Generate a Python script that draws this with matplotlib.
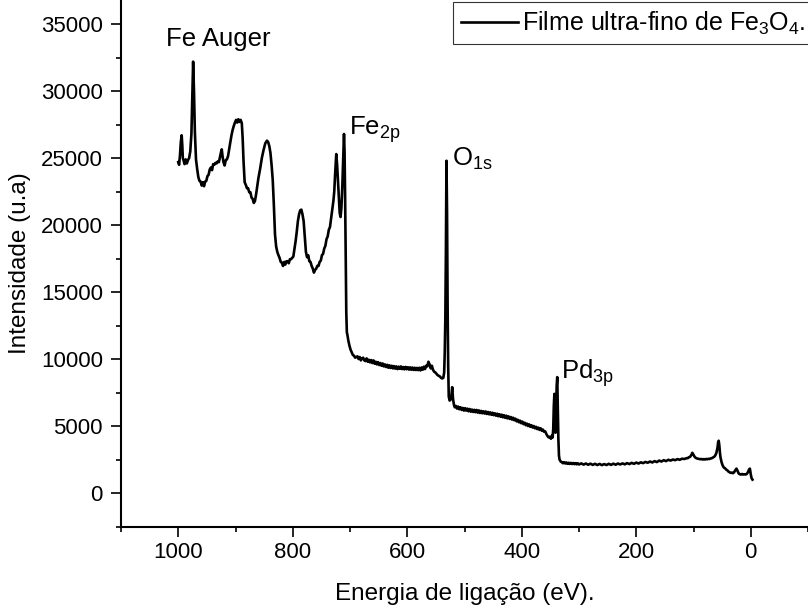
import matplotlib
matplotlib.use("Agg")
import matplotlib.pyplot as plt
from matplotlib.ticker import MultipleLocator

plt.rcParams['font.family'] = ['Liberation Sans', 'DejaVu Sans']
plt.rcParams['mathtext.fontset'] = 'custom'
plt.rcParams['mathtext.rm'] = 'Liberation Sans'
plt.rcParams['mathtext.it'] = 'Liberation Sans'
plt.rcParams['mathtext.default'] = 'regular'

# ---- data (binding energy in eV, intensity in a.u.) ----
energy_auger = [1000, 998.5, 997, 995.5, 994, 993, 992, 990.5, 989, 987, 985, 983, 981, 979, 977, 975.5, 974,
                972.5, 971, 969, 967, 965, 963, 961, 959, 957, 955, 953, 951, 949, 947, 945, 943, 941, 939,
                937, 935, 933, 931, 929, 927, 925, 924, 922.5, 921, 919, 917, 915, 913, 911, 909, 907, 905,
                903, 901, 899, 897, 895, 893, 891, 889, 887.5, 886, 884, 882, 880, 878, 876, 874, 872, 870,
                868, 866, 864, 862, 860, 857, 854, 851, 848, 845, 843, 841, 839, 837, 835, 833, 831, 829,
                827, 825, 823, 821, 819, 817, 815, 813, 811, 809, 807, 805, 803, 801, 799, 797, 795, 793,
                791, 789, 787, 785, 783, 781, 779, 777, 775, 773, 771, 769, 767, 765, 763, 761, 759, 757,
                755, 753, 751, 749, 747, 745, 743, 741, 739, 737, 735, 733, 731, 729, 727.5, 726, 724,
                722.5, 721, 719.5, 718, 716.5, 715, 713.5, 712, 710.5, 709.5, 708.5, 707.5, 706.5, 705.5,
                704.5, 703, 701]
intens_auger = [24700, 24500, 25200, 26200, 26700, 26000, 25000, 24800, 24550, 24900, 24600, 24850, 25000,
                25500, 26800, 29500, 32200, 30000, 27000, 24900, 24200, 23600, 23300, 23250, 22950, 23200,
                22900, 23250, 23300, 23650, 23750, 24150, 24300, 24100, 24550, 24500, 24650, 24600, 24750,
                24700, 25100, 25500, 25650, 25100, 24700, 24450, 24850, 24900, 25150, 25700, 26200, 26700,
                27100, 27400, 27650, 27850, 27650, 27900, 27700, 27850, 27600, 26500, 24800, 23200, 23000,
                22750, 22750, 22450, 22450, 22050, 21950, 21650, 21800, 22300, 22900, 23500, 24200, 25000,
                25600, 26100, 26300, 26200, 25900, 25400, 24500, 23400, 21500, 19300, 18400, 18000, 17750,
                17550, 17250, 17200, 16950, 17250, 17050, 17300, 17300, 17150, 17450, 17450, 17550, 17650,
                18200, 18800, 19500, 20300, 20800, 21100, 21150, 20800, 20300, 19200, 18000, 17600, 17750,
                17300, 17250, 16950, 16750, 16450, 16650, 16750, 16950, 16950, 17250, 17350, 17750, 17850,
                18250, 18450, 18950, 19150, 19650, 19850, 20500, 21200, 21800, 22500, 23800, 25300, 24500,
                23300, 22000, 20900, 20600, 21300, 22800, 24800, 26800, 25500, 22000, 17500, 13500, 12000,
                11800, 11400, 11000]

energy_mid = [699, 697, 695, 693, 691, 689, 687, 685, 683, 681, 679, 677, 675, 673, 671, 669, 667, 665, 663,
              661, 659, 657, 655, 653, 651, 649, 647, 645, 643, 641, 639, 637, 635, 633, 631, 629, 627, 625,
              623, 621, 619, 617, 615, 613, 611, 609, 607, 605, 603, 601, 599, 597, 595, 593, 591, 589, 587,
              585, 583, 581, 579, 577, 575, 573, 571, 569, 567, 565, 563, 561, 559, 557, 555, 553, 551, 549,
              547, 545, 543, 541, 539, 537, 535.5, 534.5, 533.5, 532.5, 531.5, 530.5, 529.5, 528.5, 527.5,
              526, 524.5, 523, 521.5, 520, 518.5, 517]
intens_mid = [10700, 10500, 10300, 10250, 10100, 10150, 10200, 10000, 10150, 9900, 10050, 10100, 9900, 9850,
              10050, 9800, 9950, 9750, 9920, 9700, 9900, 9650, 9800, 9600, 9770, 9550, 9700, 9500, 9670,
              9450, 9600, 9400, 9570, 9350, 9530, 9330, 9500, 9300, 9470, 9280, 9450, 9250, 9430, 9270,
              9450, 9250, 9400, 9230, 9410, 9240, 9390, 9210, 9380, 9200, 9370, 9190, 9350, 9180, 9340,
              9170, 9350, 9150, 9370, 9200, 9430, 9250, 9500, 9450, 9800, 9600, 9300, 9500, 9200, 9050,
              9000, 8900, 8800, 8750, 8700, 8600, 8550, 8600, 9000, 10500, 13000, 18000, 24800, 21000,
              14000, 9500, 7200, 6900, 6950, 7200, 7900, 7000, 6600, 6400]

energy_low = [515, 513, 511, 509, 507, 505, 503, 501, 499, 497, 495, 493, 491, 489, 487, 485, 483, 481, 479,
              477, 475, 473, 471, 469, 467, 465, 463, 461, 459, 457, 455, 453, 451, 449, 447, 445, 443, 441,
              439, 437, 435, 433, 431, 429, 427, 425, 423, 421, 419, 417, 415, 413, 411, 409, 407, 405, 403,
              401, 399, 397, 395, 393, 391, 389, 387, 385, 383, 381, 379, 377, 375, 373, 371, 369, 367, 365,
              363, 361, 359, 357, 355, 353, 351, 349, 347, 346, 345, 344, 343, 342, 341, 340, 339, 338,
              337, 336, 335, 334, 332]
intens_low = [6500, 6300, 6450, 6250, 6400, 6200, 6350, 6150, 6330, 6150, 6300, 6100, 6270, 6070, 6230, 6050,
              6210, 6030, 6200, 6000, 6170, 5970, 6130, 5950, 6100, 5930, 6090, 5900, 6050, 5870, 6020, 5840,
              5990, 5810, 5950, 5770, 5920, 5730, 5880, 5690, 5850, 5650, 5810, 5610, 5770, 5570, 5720, 5530,
              5670, 5480, 5620, 5430, 5550, 5350, 5470, 5280, 5400, 5210, 5330, 5140, 5250, 5060, 5180, 5000,
              5120, 4940, 5060, 4890, 5000, 4830, 4940, 4770, 4880, 4710, 4830, 4650, 4730, 4570, 4600, 4400,
              4250, 4150, 4200, 4050, 4300, 4150, 4800, 6500, 7400, 5800, 4500, 6000, 8000, 8650, 6500, 4000,
              2800, 2500, 2350]

energy_tail = [330, 328, 326, 324, 322, 320, 318, 316, 314, 312, 310, 308, 306, 304, 302, 300, 296, 292, 288,
               284, 280, 276, 272, 268, 264, 260, 256, 252, 248, 244, 240, 236, 232, 228, 224, 220, 216, 212,
               208, 204, 200, 196, 192, 188, 184, 180, 176, 172, 168, 164, 160, 156, 152, 148, 144, 140, 136,
               132, 128, 124, 120, 116, 112, 110, 108, 106, 104, 102, 100, 98, 96, 94, 92, 90, 88, 86, 84,
               82, 80, 78, 76, 74, 72, 70, 68, 66, 64, 62, 60, 58, 57, 56, 55, 54, 53, 51, 49, 47, 45, 43,
               41, 39, 37, 35, 33, 31, 29, 27, 25, 23, 21, 19, 17, 15, 13, 11, 9, 7, 5, 3, 1.5, 0, -1.5, -3]
intens_tail = [2300, 2220, 2300, 2200, 2280, 2180, 2260, 2170, 2250, 2160, 2240, 2150, 2230, 2140, 2220, 2130,
               2210, 2120, 2200, 2110, 2190, 2100, 2180, 2090, 2170, 2080, 2160, 2090, 2180, 2100, 2190, 2110,
               2200, 2130, 2210, 2140, 2230, 2160, 2250, 2180, 2270, 2200, 2290, 2230, 2320, 2260, 2350, 2280,
               2380, 2310, 2420, 2350, 2450, 2380, 2480, 2420, 2500, 2450, 2530, 2480, 2560, 2540, 2600, 2600,
               2670, 2700, 2820, 3000, 2850, 2700, 2620, 2580, 2560, 2540, 2520, 2540, 2500, 2530, 2500, 2540,
               2520, 2550, 2540, 2580, 2600, 2650, 2700, 2800, 3000, 3400, 3800, 3900, 3600, 3100, 2700, 2300,
               2050, 1900, 1850, 1750, 1700, 1600, 1550, 1500, 1520, 1480, 1550, 1700, 1820, 1650, 1450, 1400,
               1380, 1420, 1380, 1400, 1380, 1420, 1550, 1750, 1820, 1400, 1100, 1000]

x_ticks = [1000, 800, 600, 400, 200, 0]
y_ticks = [0, 5000, 10000, 15000, 20000, 25000, 30000, 35000]

labels = [("Fe Auger", 1022, 33400), ("Fe$_{2p}$", 702, 26750), ("O$_{1s}$", 521, 24450),
          ("Pd$_{3p}$", 332, 8560)]

energy = energy_auger + energy_mid + energy_low + energy_tail
intensity = intens_auger + intens_mid + intens_low + intens_tail

fig = plt.figure(figsize=(8.08, 6.09), dpi=100)
ax = fig.add_axes([121 / 808, (609 - 526.5) / 609, 1 - 121 / 808, 526.5 / 609])
ax.plot(energy, intensity, color='black', lw=1.9, label="Filme ultra-fino de Fe$_3$O$_4$.")

ax.set_xlim(1100, -100)
ax.set_ylim(-2500, 36800)
ax.set_xticks(x_ticks)
ax.set_yticks(y_ticks)
ax.xaxis.set_minor_locator(MultipleLocator(100))
ax.yaxis.set_minor_locator(MultipleLocator(2500))
ax.tick_params(which='major', direction='out', length=7, width=1.2, labelsize=16, pad=6, colors='black')
ax.tick_params(axis='x', which='major', pad=4.5)
ax.tick_params(which='minor', direction='out', length=3.5, width=1.2)
for s in ['top', 'right']:
    ax.spines[s].set_visible(False)
for s in ['left', 'bottom']:
    ax.spines[s].set_linewidth(1.5)

ax.set_xlabel("Energia de ligação (eV).", fontsize=17.5, labelpad=14)
ax.set_ylabel("Intensidade (u.a)", fontsize=17.5, labelpad=7)

for txt, xv, yv in labels:
    ax.text(xv, yv, txt, fontsize=18.5, ha='left', va='baseline')

leg = fig.legend(loc='upper left', bbox_to_anchor=(453 / 808, 1 - 2 / 609), fontsize=18,
                 frameon=True, fancybox=False, edgecolor='black', handlelength=2.3,
                 borderpad=0.3, handletextpad=0.15, borderaxespad=0)
leg.get_frame().set_linewidth(0.8)

fig.savefig("out.png", dpi=100)
